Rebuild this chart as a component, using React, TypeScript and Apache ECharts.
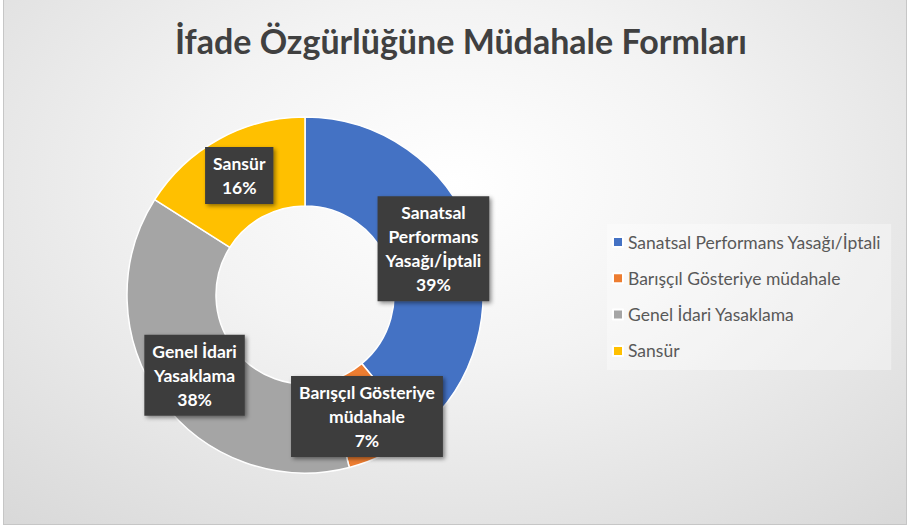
import React, { useEffect, useRef } from "react";
import * as echarts from "echarts";

const categories = [
  "Sanatsal Performans Yasağı/İptali",
  "Barışçıl Gösteriye müdahale",
  "Genel İdari Yasaklama",
  "Sansür",
];
const labelTexts = [
  "Sanatsal\nPerformans\nYasağı/İptali",
  "Barışçıl Gösteriye\nmüdahale",
  "Genel İdari\nYasaklama",
  "Sansür",
];
const values = [39, 7, 38, 16];
const colors = ["#4472C4", "#ED7D31", "#A5A5A5", "#FFC000"];
const titleText = "İfade Özgürlüğüne Müdahale Formları";

export default function App() {
  const ref = useRef<HTMLDivElement>(null);
  useEffect(() => {
    document.body.style.margin = "0";
    const chart = echarts.init(ref.current!, undefined, { renderer: "svg" });
    chart.setOption({
      animation: false,
      backgroundColor: "transparent",
      title: {
        text: titleText,
        left: 456,
        top: 18,
        textAlign: "center",
        textStyle: {
          fontFamily: "Lato",
          fontWeight: "bold",
          fontSize: 34,
          color: "#404040",
        },
      },
      legend: {
        orient: "vertical",
        left: 607,
        top: 224,
        padding: [9, 10, 10, 5],
        itemWidth: 10,
        itemHeight: 10,
        itemGap: 18.3,
        icon: "rect",
        backgroundColor: "rgba(255,255,255,0.35)",
        data: categories,
        textStyle: {
          fontFamily: "Lato",
          fontSize: 17.5,
          color: "#595959",
          lineHeight: 17,
          padding: [0, 0, 0, 0],
        },
      },
      series: [
        {
          type: "pie",
          center: [305, 295],
          radius: [89, 178],
          startAngle: 90,
          clockwise: true,
          avoidLabelOverlap: false,
          itemStyle: { borderColor: "#ffffff", borderWidth: 1.5 },
          labelLine: { show: false },
          label: {
            show: true,
            position: "inside",
            formatter: (p: any) => labelTexts[p.dataIndex] + "\n" + p.value + "%",
            fontFamily: "Lato",
            fontWeight: "bold",
            fontSize: 17.5,
            lineHeight: 24,
            color: "#ffffff",
            backgroundColor: "#3d3d3d",
            padding: [5, 8, 4, 8],
            shadowColor: "rgba(0,0,0,0.45)",
            shadowBlur: 4,
            shadowOffsetX: 2,
            shadowOffsetY: 2,
            align: "center",
          },
          data: categories.map((name, i) => ({
            name,
            value: values[i],
            itemStyle: { color: colors[i] },
          })),
        },
      ],
    });
    return () => chart.dispose();
  }, []);
  return (
    <div
      style={{
        position: "fixed",
        left: 0,
        top: 0,
        width: 909,
        height: 528,
        background: "#ffffff",
      }}
    >
      <div
        style={{
          position: "absolute",
          left: 3,
          top: -1,
          width: 902,
          height: 524,
          border: "1px solid #c6c6c6",
          background:
            "radial-gradient(ellipse 75% 85% at 50% 35%, #ffffff 0%, #f3f3f3 40%, #d9d9d9 100%)",
        }}
      />
      <div
        ref={ref}
        style={{ position: "absolute", left: 0, top: 0, width: 909, height: 528 }}
      />
    </div>
  );
}
